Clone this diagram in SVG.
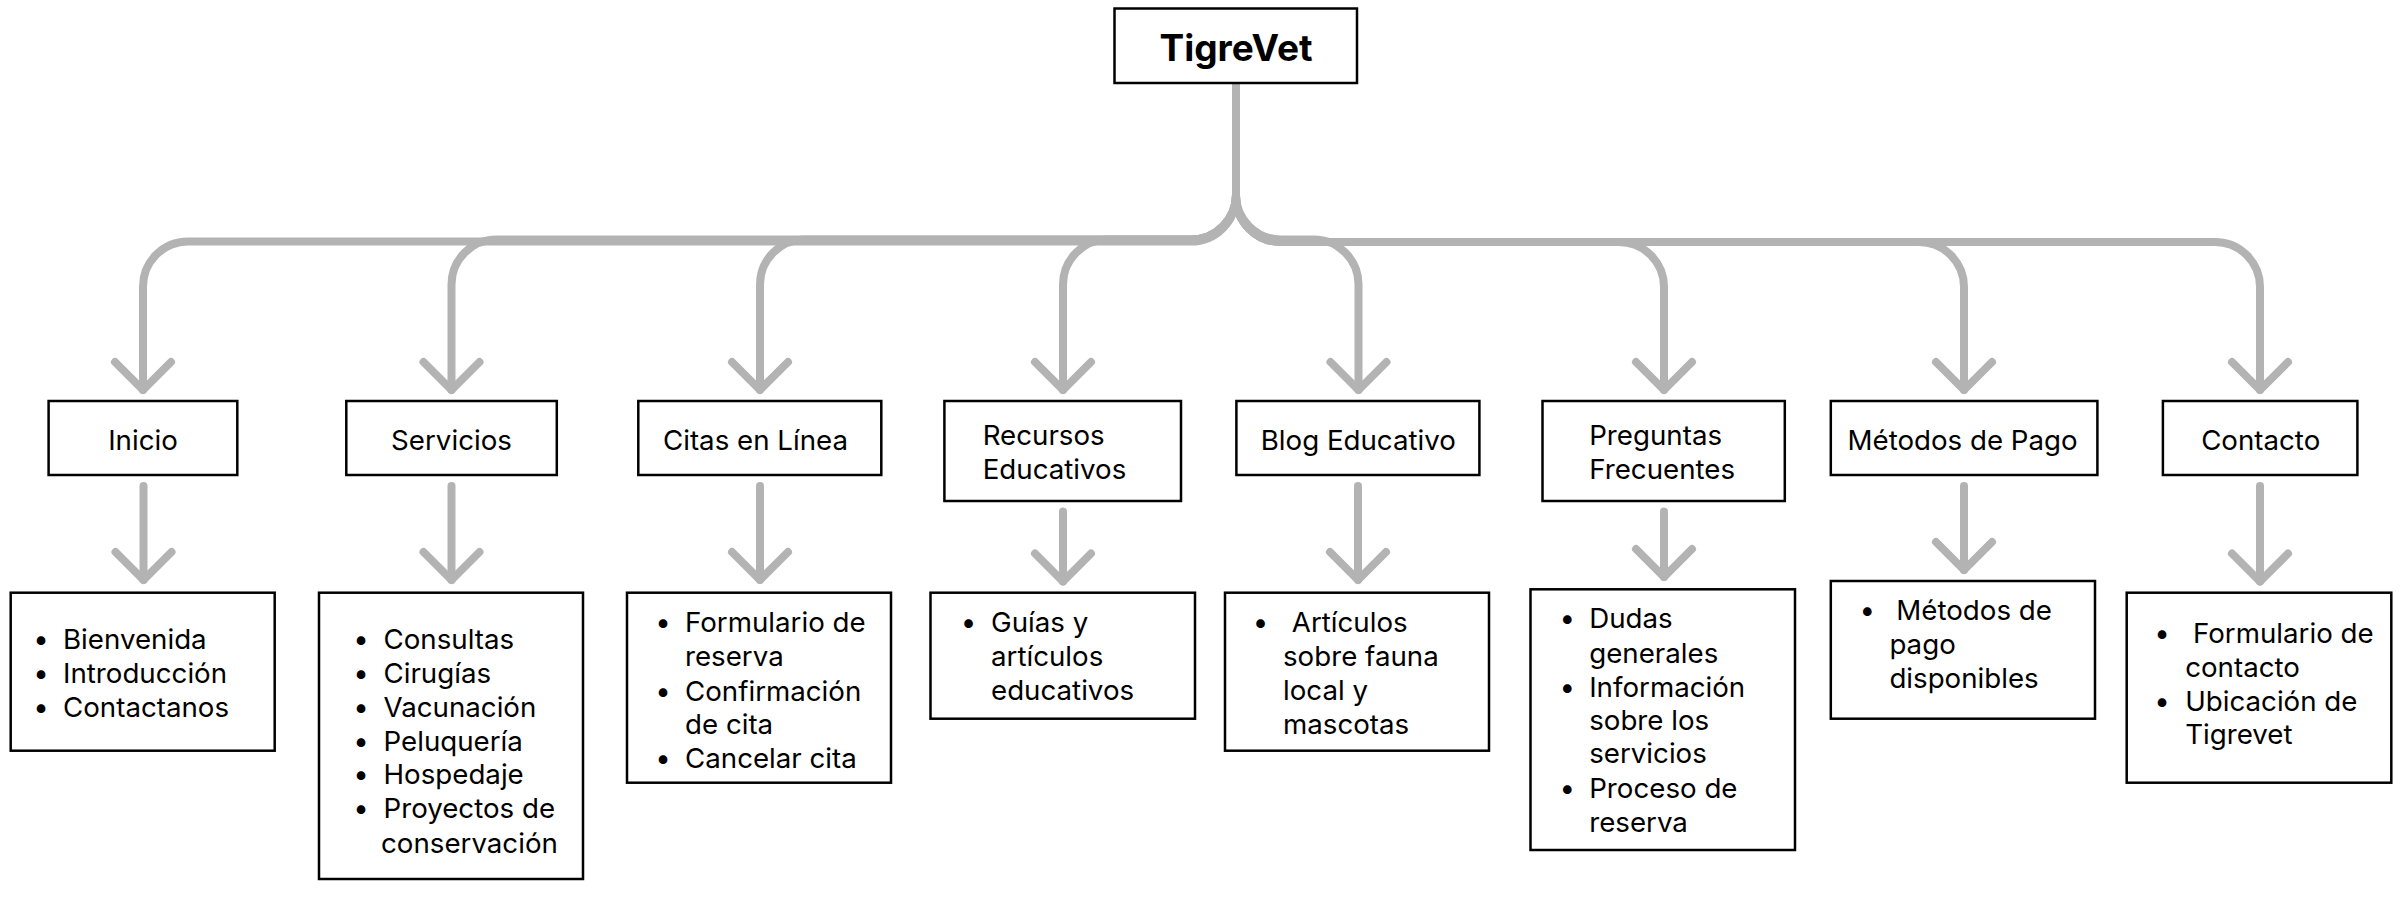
<svg xmlns="http://www.w3.org/2000/svg" width="2404" height="898" viewBox="0 0 2404 898">
<defs>
<style>
.box{fill:#fff;stroke:#000;stroke-width:2.5}
.t{font-family:Inter,"Liberation Sans",sans-serif;font-size:27.7px;fill:#000}
.c{text-anchor:middle}
.title{font-family:Inter,"Liberation Sans",sans-serif;font-size:37px;font-weight:700;text-anchor:middle;fill:#000}
.conn{fill:none;stroke:#b3b3b3;stroke-width:8;stroke-linecap:round;stroke-linejoin:round;marker-end:url(#chev)}
</style>
<marker id="chev" markerUnits="userSpaceOnUse" markerWidth="80" markerHeight="80" viewBox="-40 -40 80 80" refX="0" refY="0" orient="auto" overflow="visible">
<path d="M-28,-28 L0,0 L-28,28" fill="none" stroke="#b3b3b3" stroke-width="8" stroke-linecap="round" stroke-linejoin="round"/>
</marker>
</defs>
<rect width="2404" height="898" fill="#fff"/>

<g id="connectors">
<path class="conn" d="M1236 83 V196.5 A45 45 0 0 1 1191 241.5 H188 A45 45 0 0 0 143 286.5 V390"/>
<path class="conn" d="M1236 83 V194.5 A45 45 0 0 1 1191 239.5 H496.5 A45 45 0 0 0 451.5 284.5 V390"/>
<path class="conn" d="M1236 83 V194.5 A45 45 0 0 1 1191 239.5 H805 A45 45 0 0 0 760 284.5 V390"/>
<path class="conn" d="M1236 83 V194.5 A45 45 0 0 1 1191 239.5 H1108 A45 45 0 0 0 1063 284.5 V390"/>
<path class="conn" d="M1236 83 V194.5 A45 45 0 0 0 1281 239.5 H1313.5 A45 45 0 0 1 1358.5 284.5 V390"/>
<path class="conn" d="M1236 83 V197 A45 45 0 0 0 1281 242 H1619 A45 45 0 0 1 1664 287 V390"/>
<path class="conn" d="M1236 83 V197 A45 45 0 0 0 1281 242 H1919 A45 45 0 0 1 1964 287 V390"/>
<path class="conn" d="M1236 83 V197 A45 45 0 0 0 1281 242 H2215 A45 45 0 0 1 2260 287 V390"/>
<path class="conn" d="M143.5 486 V580"/>
<path class="conn" d="M451.5 486 V580"/>
<path class="conn" d="M760 486 V580"/>
<path class="conn" d="M1063 511.5 V581.5"/>
<path class="conn" d="M1358 486 V580"/>
<path class="conn" d="M1664 511.5 V577"/>
<path class="conn" d="M1964 486 V570"/>
<path class="conn" d="M2260 486 V581.5"/>
</g>

<g id="root">
<rect class="box" x="1114.5" y="8.5" width="242.5" height="74.5"/>
<text class="title" x="1236" y="61">TigreVet</text>
</g>

<g id="inicio">
<rect class="box" x="48.6" y="401" width="188.7" height="74"/>
<text class="t c" x="143" y="450">Inicio</text>
</g>
<g id="servicios">
<rect class="box" x="346.3" y="401" width="210.5" height="74"/>
<text class="t c" x="451.5" y="450">Servicios</text>
</g>
<g id="citas">
<rect class="box" x="638.3" y="401" width="243" height="74"/>
<text class="t" x="663" y="450">Citas en Línea</text>
</g>
<g id="recursos">
<rect class="box" x="944.4" y="401" width="236.6" height="100"/>
<text class="t" x="982.7" y="445">Recursos</text>
<text class="t" x="982.7" y="479">Educativos</text>
</g>
<g id="blog">
<rect class="box" x="1236.4" y="401" width="243" height="74"/>
<text class="t c" x="1358.3" y="450">Blog Educativo</text>
</g>
<g id="preguntas">
<rect class="box" x="1542.5" y="401" width="242.3" height="100"/>
<text class="t" x="1589.2" y="445">Preguntas</text>
<text class="t" x="1589.2" y="479">Frecuentes</text>
</g>
<g id="metodos">
<rect class="box" x="1830.8" y="401" width="266.6" height="74"/>
<text class="t c" x="1962.6" y="450">Métodos de Pago</text>
</g>
<g id="contacto">
<rect class="box" x="2162.9" y="401" width="194.5" height="74"/>
<text class="t c" x="2260.7" y="450">Contacto</text>
</g>

<g id="inicio-list">
<rect class="box" x="10.7" y="592.7" width="264" height="158"/>
<text class="t c" x="41" y="649.3">•</text>
<text class="t c" x="41" y="683.3">•</text>
<text class="t c" x="41" y="717.3">•</text>
<text class="t" x="63" y="649.3">Bienvenida</text>
<text class="t" x="63" y="683.3">Introducción</text>
<text class="t" x="63" y="717.3">Contactanos</text>
</g>

<g id="servicios-list">
<rect class="box" x="319" y="592.7" width="264" height="286.3"/>
<text class="t c" x="361" y="649.3">•</text>
<text class="t c" x="361" y="683.3">•</text>
<text class="t c" x="361" y="717.3">•</text>
<text class="t c" x="361" y="750.7">•</text>
<text class="t c" x="361" y="784">•</text>
<text class="t c" x="361" y="818.3">•</text>
<text class="t" x="383.5" y="649.3">Consultas</text>
<text class="t" x="383.5" y="683.3">Cirugías</text>
<text class="t" x="383.5" y="717.3">Vacunación</text>
<text class="t" x="383.5" y="750.7">Peluquería</text>
<text class="t" x="383.5" y="784">Hospedaje</text>
<text class="t" x="383.5" y="818.3">Proyectos de</text>
<text class="t" x="381" y="852.7">conservación</text>
</g>

<g id="citas-list">
<rect class="box" x="627" y="592.7" width="264" height="190"/>
<text class="t c" x="663" y="632.3">•</text>
<text class="t c" x="663" y="700.7">•</text>
<text class="t c" x="663" y="768.3">•</text>
<text class="t" x="685" y="632.3">Formulario de</text>
<text class="t" x="685" y="666">reserva</text>
<text class="t" x="685" y="700.7">Confirmación</text>
<text class="t" x="685" y="734">de cita</text>
<text class="t" x="685" y="768.3">Cancelar cita</text>
</g>

<g id="recursos-list">
<rect class="box" x="930.5" y="592.7" width="264.5" height="126"/>
<text class="t c" x="968.5" y="632.3">•</text>
<text class="t" x="991" y="632.3">Guías y</text>
<text class="t" x="991" y="666">artículos</text>
<text class="t" x="991" y="700">educativos</text>
</g>

<g id="blog-list">
<rect class="box" x="1225" y="592.7" width="264" height="158"/>
<text class="t c" x="1260.5" y="632.3">•</text>
<text class="t" x="1291.8" y="632.3">Artículos</text>
<text class="t" x="1283" y="666">sobre fauna</text>
<text class="t" x="1283" y="700">local y</text>
<text class="t" x="1283" y="734">mascotas</text>
</g>

<g id="preguntas-list">
<rect class="box" x="1530.5" y="589.3" width="264.5" height="260.7"/>
<text class="t c" x="1567.4" y="628.3">•</text>
<text class="t c" x="1567.4" y="696.7">•</text>
<text class="t c" x="1567.4" y="797.7">•</text>
<text class="t" x="1589.2" y="628.3">Dudas</text>
<text class="t" x="1589.2" y="662.7">generales</text>
<text class="t" x="1589.2" y="696.7">Información</text>
<text class="t" x="1589.2" y="730">sobre los</text>
<text class="t" x="1589.2" y="763.3">servicios</text>
<text class="t" x="1589.2" y="797.7">Proceso de</text>
<text class="t" x="1589.2" y="831.7">reserva</text>
</g>

<g id="metodos-list">
<rect class="box" x="1830.8" y="581" width="264.2" height="137.7"/>
<text class="t c" x="1867.4" y="620">•</text>
<text class="t" x="1896.3" y="620">Métodos de</text>
<text class="t" x="1889.4" y="654">pago</text>
<text class="t" x="1889.4" y="688.3">disponibles</text>
</g>

<g id="contacto-list">
<rect class="box" x="2126.7" y="592.7" width="264.6" height="190"/>
<text class="t c" x="2162" y="643.3">•</text>
<text class="t c" x="2162" y="711">•</text>
<text class="t" x="2193" y="643.3">Formulario de</text>
<text class="t" x="2185.2" y="676.7">contacto</text>
<text class="t" x="2185.2" y="711">Ubicación de</text>
<text class="t" x="2185.2" y="744.3">Tigrevet</text>
</g>
</svg>
